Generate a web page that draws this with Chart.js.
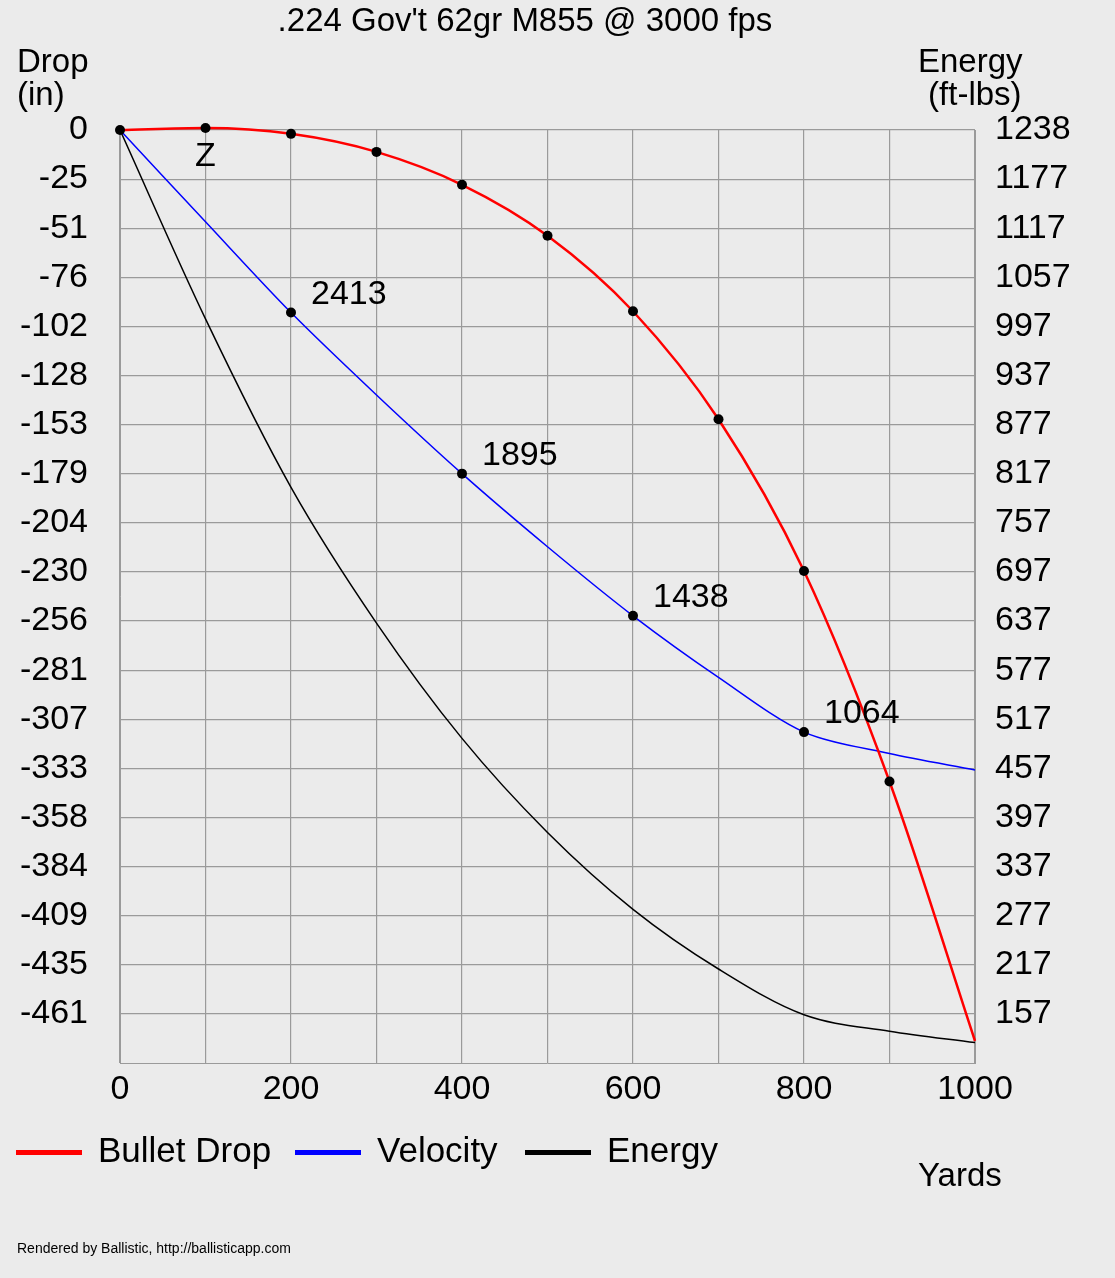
<!DOCTYPE html>
<html><head><meta charset="utf-8">
<script src="https://cdn.jsdelivr.net/npm/chart.js@4"></script>
<style>
html,body{margin:0;padding:0;background:#ebebeb;font-family:"Liberation Sans",Arial,sans-serif;}
#wrap{position:relative;width:1115px;height:1278px;}
canvas{position:absolute;left:0;top:0;}
.t{position:absolute;color:#000;white-space:nowrap;}
.leg{position:absolute;height:5px;width:66px;top:1150px;}
</style></head><body>
<div id="wrap">
<canvas id="c" width="1115" height="1278"></canvas>
<div class="t" style="left:0;width:1050px;text-align:center;top:1px;font-size:33px;">.224 Gov't 62gr M855 @ 3000 fps</div>
<div class="t" style="left:17px;top:44px;font-size:33px;line-height:33px;">Drop<br>(in)</div>
<div class="t" style="left:918px;top:44px;font-size:33px;line-height:33px;text-align:center;">Energy<br>&nbsp;(ft-lbs)</div>
<div class="t" style="left:918px;top:1156px;font-size:33px;">Yards</div>
<div class="leg" style="left:16px;background:#ff0000"></div>
<div class="t" style="left:98px;top:1130px;font-size:35px;">Bullet Drop</div>
<div class="leg" style="left:295px;background:#0000ff"></div>
<div class="t" style="left:377px;top:1130px;font-size:35px;">Velocity</div>
<div class="leg" style="left:525px;background:#000"></div>
<div class="t" style="left:607px;top:1130px;font-size:35px;">Energy</div>
<div class="t" style="left:17px;top:1240px;font-size:14px;">Rendered by Ballistic, http://ballisticapp.com</div>
</div>
<script>
const yards=[0,100,200,300,400,500,600,700,800,900,1000];
const drop=[0,1,-2,-11.4,-28.5,-55,-94.3,-150.5,-229.5,-339,-474];
const velocity=[3000,2705,2413,2148,1895,1660,1438,1240,1064,995,942];
const energy=[1238,1007,801,635,494,379,285,212,156,136,122];
const dropLabels=["0","-25","-51","-76","-102","-128","-153","-179","-204","-230","-256","-281","-307","-333","-358","-384","-409","-435","-461"];
const energyLabels=["1238","1177","1117","1057","997","937","877","817","757","697","637","577","517","457","397","337","277","217","157"];
const velLabelYards=[200,400,600,800];
const dropStep=25.55, energyStep=60.05;

const pts=a=>yards.map((x,i)=>({x,y:a[i]}));
const labelPlugin={id:'lbl',afterDatasetsDraw(ch){
  const c=ch.ctx;c.save();c.fillStyle='#000';c.font='34px "Liberation Sans",Arial';
  const m0=ch.getDatasetMeta(0).data[1];
  c.textAlign='center';c.textBaseline='top';c.fillText('Z',m0.x,m0.y+12);
  const m1=ch.getDatasetMeta(1).data;c.textAlign='left';c.textBaseline='bottom';
  yards.forEach((yd,i)=>{if(velLabelYards.includes(yd)){c.fillText(String(velocity[i]),m1[i].x+20,m1[i].y-1);}});
  c.restore();}};
const font={size:34,family:'"Liberation Sans",Arial'};
new Chart(document.getElementById('c'),{
 type:'line',
 data:{datasets:[
  {data:pts(drop),yAxisID:'yd',clip:false,borderColor:'#ff0000',borderWidth:2.5,tension:0.4,cubicInterpolationMode:'monotone',pointRadius:yards.map(y=>y===1000?0:5),pointBackgroundColor:'#000',pointBorderWidth:0},
  {data:pts(velocity),yAxisID:'yv',clip:false,borderColor:'#0000ff',borderWidth:1.5,tension:0.3,pointRadius:yards.map(y=>velLabelYards.includes(y)?5:0),pointBackgroundColor:'#000',pointBorderWidth:0},
  {data:pts(energy),yAxisID:'ye',borderColor:'#000',borderWidth:1.5,tension:0.4,cubicInterpolationMode:'monotone',pointRadius:0}
 ]},
 options:{responsive:false,animation:false,events:[],
  layout:{padding:{top:130,left:0,right:0,bottom:0}},
  plugins:{legend:{display:false},tooltip:{enabled:false}},
  scales:{
   x:{type:'linear',min:0,max:1000,
      afterBuildTicks(s){s.ticks=yards.map(v=>({value:v}));},
      afterFit(s){s.height=1278-1063;},
      grid:{color:'#9a9a9a',lineWidth:1.2,drawTicks:false},border:{color:'#9a9a9a'},
      ticks:{font,color:'#000',padding:6,maxRotation:0,autoSkip:false,callback:v=>v%200===0?String(v):''}},
   yd:{position:'left',min:-19*dropStep,max:0,
      afterBuildTicks(s){s.ticks=dropLabels.map((l,i)=>({value:-i*dropStep}));},
      afterFit(s){s.width=120;},
      grid:{color:'#9a9a9a',lineWidth:1.2,drawTicks:false},border:{color:'#9a9a9a'},
      ticks:{font,color:'#000',padding:32,autoSkip:false,callback:(v,i)=>dropLabels[i]}},
   ye:{position:'right',min:1238-19*energyStep,max:1238,
      afterBuildTicks(s){s.ticks=energyLabels.map((l,i)=>({value:1238-i*energyStep}));},
      afterFit(s){s.width=140;},
      grid:{display:false},border:{color:'#9a9a9a'},
      ticks:{font,color:'#000',padding:12,autoSkip:false,callback:(v,i)=>energyLabels[i]}},
   yv:{display:false,min:0,max:3000}
  }},
 plugins:[labelPlugin]
});
</script></body></html>
